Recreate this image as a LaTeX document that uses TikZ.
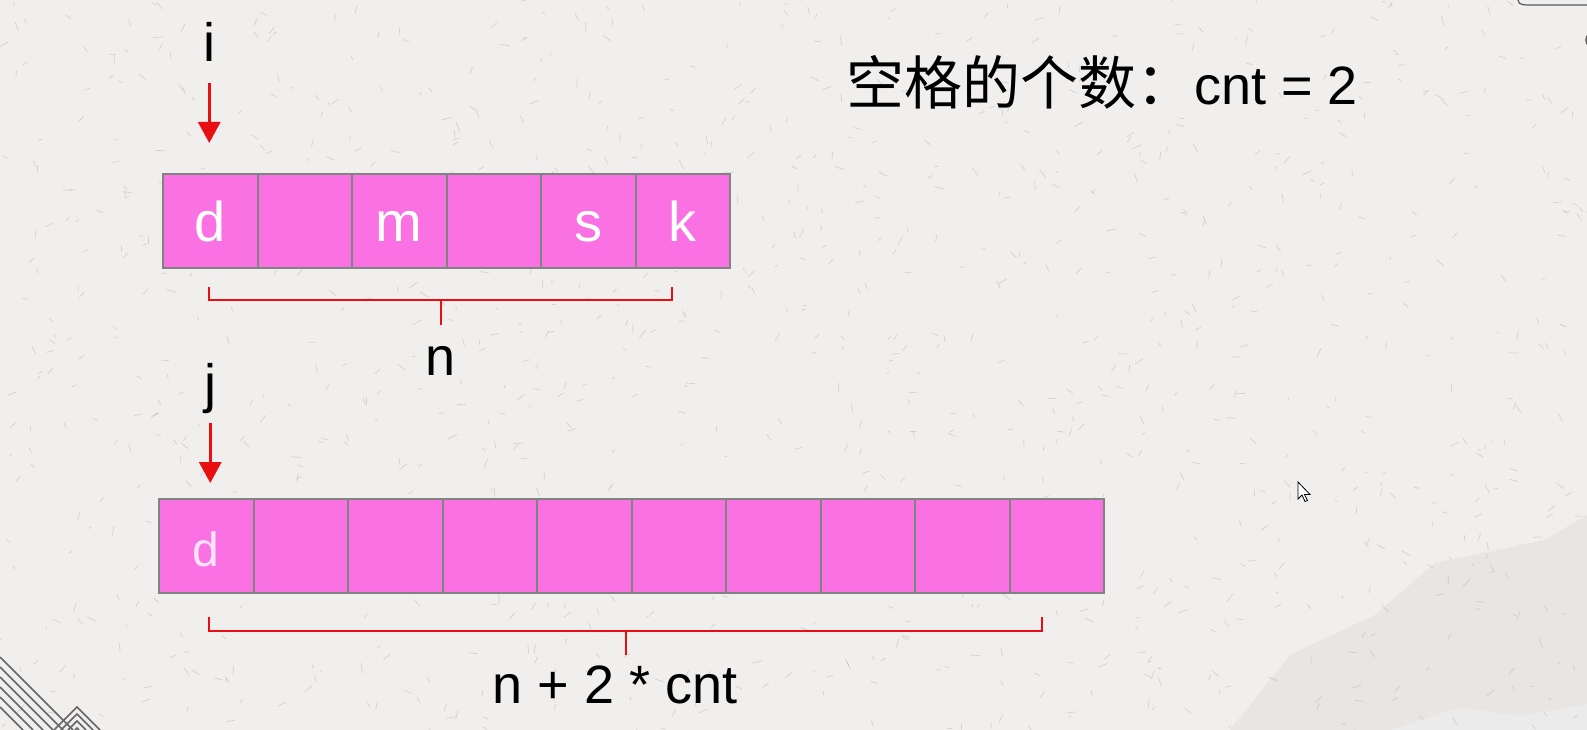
\documentclass[tikz,border=0pt]{standalone}
\usepackage{fontspec}
\setmainfont{Liberation Sans}
\newfontfamily\cjk{Noto Sans CJK SC}
\usetikzlibrary{arrows.meta,positioning}

\definecolor{paper}{RGB}{240,239,238}
\definecolor{cellpink}{RGB}{249,113,227}
\definecolor{cellgray}{RGB}{128,132,128}
\definecolor{markred}{RGB}{232,14,18}
\definecolor{hill}{RGB}{233,229,226}

\begin{document}
\begin{tikzpicture}
[
  x=1pt, y=-1pt,
  node distance=0pt,
  cell/.style={rectangle, draw=cellgray, line width=2pt, fill=cellpink,
    minimum width=94.5pt, minimum height=94pt, inner sep=0pt, outer sep=0pt,
    text=white, text height=40pt, text depth=0pt, font=\fontsize{56}{60}\selectfont},
  ghost/.style={text=white!80!cellpink, font=\fontsize{48}{52}\selectfont},
  lbl/.style={inner sep=0pt, font=\fontsize{54}{60}\selectfont},
  ptr/.style={draw=markred, line width=3.2pt, -{Triangle[length=21pt,width=22pt]}},
  brace/.style={draw=markred, line width=2.6pt},
  fiber/.style={draw=black!45, line width=0.7pt, opacity=0.3},
  deco/.style={draw=black!60, line width=1.6pt}
]
 % paper background
 \useasboundingbox (0,0) rectangle (1587,730);
 \fill[paper] (0,0) rectangle (1587,730);
 \clip (0,0) rectangle (1587,730);
 \fill[hill] (1230,730) -- (1290,655) -- (1375,615) -- (1435,563) -- (1545,540) -- (1587,515) -- (1587,730) -- cycle;
 \fill[black!8] (1390,730) -- (1460,707) -- (1520,716) -- (1587,704) -- (1587,730) -- cycle;
 \pgfmathsetseed{11}
 \foreach \f in {1,...,1100}{
   \pgfmathsetmacro\fx{1587*rnd}
   \pgfmathsetmacro\fy{730*rnd}
   \pgfmathsetmacro\fa{360*rnd}
   \pgfmathsetmacro\fl{3+7*rnd}
   \draw[fiber] (\fx,\fy) -- ++(\fa:\fl);
 }
 \foreach \k in {0,...,5}
   \draw[deco] (0,{657+10*\k}) -- ({73-10*\k},730);
 \foreach \k in {0,...,3}
   \draw[deco] ({54+7*\k},730) -- (77,{707+7*\k}) -- ({100-7*\k},730);
 \draw[black!65, line width=1.2pt] (1518,0) to[out=-90,in=180] (1532,5) -- (1587,5);
 \draw[black!65, line width=1.5pt] (1594,40) circle (8);
 \draw[fill=white, line width=0.8pt] (1298,482) -- ++(0,17) -- ++(4,-4) -- ++(3,6.5)
   -- ++(2.5,-1) -- ++(-3,-6) -- ++(5.5,0) -- cycle;

 % source string
 \node[cell] (a1) at (210.25,221) {d};
 \node[cell, right=of a1] (a2) {};
 \node[cell, right=of a2] (a3) {m};
 \node[cell, right=of a3] (a4) {};
 \node[cell, right=of a4] (a5) {s};
 \node[cell, right=of a5] (a6) {k};

 % result string
 \node[cell, ghost] (b1) at (206.25,546) {d};
 \foreach \k [remember=\k as \p (initially 1)] in {2,...,10}
   \node[cell, right=of b\p] (b\k) {};

 % pointers
 \node[lbl, anchor=base] (i) at ([xshift=-1pt,yshift=112pt]a1.north) {i};
 \node[lbl, anchor=base] (j) at ([xshift=4pt,yshift=97pt]b1.north) {j};
 \draw[ptr] ([yshift=-21pt]i.base) -- ([xshift=-1pt,yshift=31pt]a1.north);
 \draw[ptr] ([yshift=-21pt]j.base) -- ([xshift=4pt,yshift=16pt]b1.north);

 % lengths
 \coordinate (nL) at (209,300);
 \coordinate (nR) at (672,300);
 \coordinate (nM) at (441,300);
 \draw[brace] ([yshift=13pt]nL) -- (nL) -- (nR) -- ([yshift=13pt]nR);
 \draw[brace] (nM) -- ++(0,25);
 \node[lbl, anchor=base] (n) at (441,375) {n};

 \coordinate (mL) at (209,631);
 \coordinate (mR) at (1042,631);
 \coordinate (mM) at (626,631);
 \draw[brace] ([yshift=14pt]mL) -- (mL) -- (mR) -- ([yshift=14pt]mR);
 \draw[brace] (mM) -- ++(0,24);
 \node[lbl, anchor=base] (len) at (615,703) {n + 2 * cnt};

 % count of spaces
 \node[inner sep=0pt, anchor=base west] (title) at (846,105)
   {{\cjk\fontsize{58}{60}\selectfont 空格的个数：}{\fontsize{54}{60}\selectfont cnt = 2}};
\end{tikzpicture}
\end{document}
